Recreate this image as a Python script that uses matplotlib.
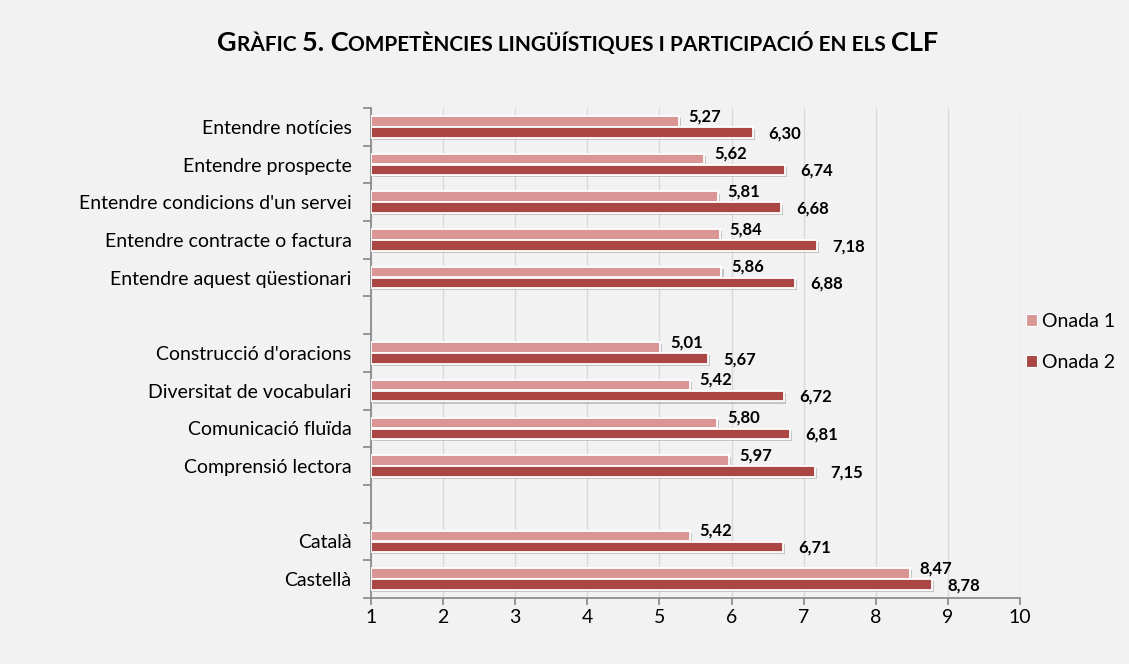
import numpy as np
import matplotlib
matplotlib.use("Agg")
import matplotlib.pyplot as plt
import matplotlib.patheffects as pe
from matplotlib.patches import Patch
from matplotlib.ticker import FixedLocator

plt.rcParams['font.family'] = ['Lato', 'DejaVu Sans']

# data (top to bottom), groups separated by an empty row
groups = [
    ["Entendre notícies", "Entendre prospecte", "Entendre condicions d'un servei",
     "Entendre contracte o factura", "Entendre aquest qüestionari"],
    ["Construcció d'oracions", "Diversitat de vocabulari", "Comunicació fluïda",
     "Comprensió lectora"],
    ["Català", "Castellà"],
]
onada1 = [5.27, 5.62, 5.81, 5.84, 5.86, 5.01, 5.42, 5.80, 5.97, 5.42, 8.47]
onada2 = [6.30, 6.74, 6.68, 7.18, 6.88, 5.67, 6.72, 6.81, 7.15, 6.71, 8.78]
series_names = ["Onada 1", "Onada 2"]
colors = ["#d99694", "#aa4644"]

# positions with a blank slot between groups
labels, ypos = [], []
p = 0
for g in groups:
    for c in g:
        labels.append(c)
        ypos.append(p)
        p += 1
    p += 1
n_slots = p - 1
ypos = np.array(ypos)

fig = plt.figure(figsize=(11.29, 6.64), dpi=100)
fig.patch.set_facecolor("#f2f2f2")
ax = fig.add_axes([0.3286, 0.0994, 0.5749, 0.7379])
ax.set_facecolor("#f2f2f2")

h = 0.28
shadow = [pe.SimplePatchShadow(offset=(1.5, -1.5), shadow_rgbFace="#999999", alpha=0.5), pe.Normal()]
b1 = ax.barh(ypos - 0.146, np.array(onada1) - 1, left=1, height=h, color=colors[0],
             edgecolor="white", linewidth=1.3, zorder=3)
b2 = ax.barh(ypos + 0.146, np.array(onada2) - 1, left=1, height=h, color=colors[1],
             edgecolor="white", linewidth=1.3, zorder=3)
for b in list(b1) + list(b2):
    b.set_path_effects(shadow)

for y, v in zip(ypos, onada1):
    ax.annotate(f"{v:.2f}".replace(".", ","), (v, y - 0.146 - h / 2), xytext=(7, 0),
                textcoords="offset points", ha="left", va="center",
                fontsize=12, fontweight="bold", color="black", zorder=4)
for y, v in zip(ypos, onada2):
    ax.annotate(f"{v:.2f}".replace(".", ","), (v, y + 0.146 + 0.02), xytext=(11, 0),
                textcoords="offset points", ha="left", va="center",
                fontsize=12, fontweight="bold", color="black", zorder=4)

ax.set_xlim(1, 10)
ax.set_xticks(range(1, 11))
ax.set_ylim(n_slots - 0.5, -0.5)
ax.yaxis.set_major_locator(FixedLocator(np.arange(-0.5, n_slots, 1.0)))
ax.yaxis.set_minor_locator(FixedLocator(ypos))
ax.set_yticklabels([], minor=False)
ax.set_yticklabels(labels, minor=True)
ax.tick_params(axis="y", which="major", length=6, color="#868686", width=1.2)
ax.tick_params(axis="y", which="minor", length=0, pad=14, labelsize=14)
ax.tick_params(axis="x", length=5, color="#868686", width=1.2, labelsize=14, pad=3)

ax.grid(axis="x", color="#d9d9d9", linewidth=1, zorder=0)
ax.set_axisbelow(True)
for s in ["top", "right"]:
    ax.spines[s].set_visible(False)
for s in ["left", "bottom"]:
    ax.spines[s].set_color("#868686")
    ax.spines[s].set_linewidth(1.2)

handles = [Patch(facecolor=c, edgecolor="white", linewidth=0.8) for c in colors]
fig.legend(handles, series_names, loc="center left", bbox_to_anchor=(0.893, 0.485),
           frameon=False, fontsize=14, handlelength=0.6, handleheight=0.6,
           handletextpad=0.25, labelspacing=1.25)

# title in small caps, built from pieces
parts = [("G", 19.5), ("RÀFIC ", 15), ("5. C", 19.5),
         ("OMPETÈNCIES LINGÜÍSTIQUES I PARTICIPACIÓ EN ELS ", 15), ("CLF", 19.5)]
renderer = fig.canvas.get_renderer()
texts = []
for s, fs in parts:
    t = fig.text(0, 0.923, s, fontsize=fs, fontweight="bold", ha="left", va="baseline")
    texts.append(t)
widths = [t.get_window_extent(renderer).width for t in texts]
total = sum(widths)
x = 578 - total / 2
for t, w in zip(texts, widths):
    t.set_x(x / fig.bbox.width)
    x += w

fig.savefig("out.png", dpi=100, facecolor=fig.get_facecolor())
